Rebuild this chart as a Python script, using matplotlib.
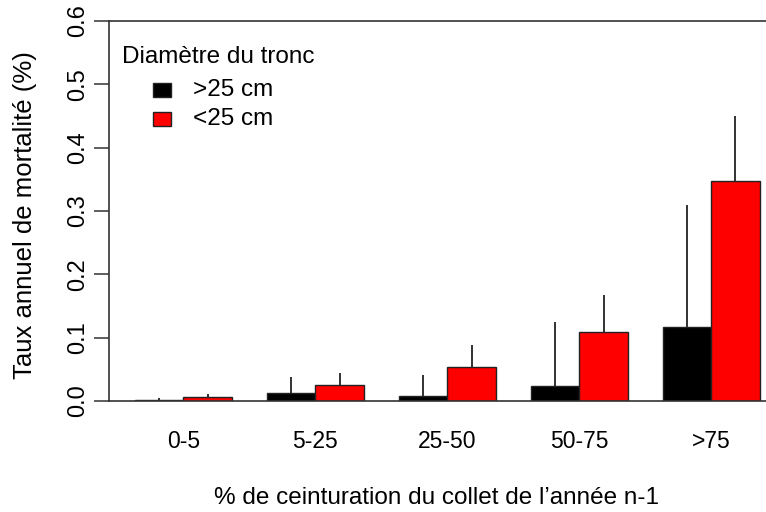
import matplotlib.pyplot as plt
from matplotlib.patches import Rectangle
import numpy as np

plt.rcParams['font.family'] = ['Liberation Sans', 'DejaVu Sans']

categories = ["0-5", "5-25", "25-50", "50-75", ">75"]
big_trunk = [0.001, 0.013, 0.008, 0.024, 0.117]      # >25 cm
big_err_top = [0.005, 0.038, 0.041, 0.125, 0.310]
small_trunk = [0.006, 0.025, 0.054, 0.109, 0.348]    # <25 cm
small_err_top = [0.011, 0.044, 0.089, 0.168, 0.450]
yticks = [0.0, 0.1, 0.2, 0.3, 0.4, 0.5, 0.6]

W, H = 766, 512
fig = plt.figure(figsize=(W / 100, H / 100), dpi=100)
# axes run off the right edge, like the cropped original
ax = fig.add_axes([109 / W, 111 / H, (W - 109) / W, 380 / H])

space = 0.72
pitch = 2 + space
left0 = 0.536
x_black = left0 + pitch * np.arange(len(categories))
x_red = x_black + 1

ax.bar(x_black, big_trunk, width=1, align="edge", color="black",
       edgecolor="#222222", linewidth=1)
ax.bar(x_red, small_trunk, width=1, align="edge", color="#ff0000",
       edgecolor="#222222", linewidth=1)
ax.vlines(x_black + 0.5, big_trunk, big_err_top, color="#222222", linewidth=1.3)
ax.vlines(x_red + 0.5, small_trunk, small_err_top, color="#222222", linewidth=1.3)

ax.set_xlim(0, (W - 109) / 48.5)
ax.set_ylim(0, 0.6)

ax.spines["right"].set_visible(False)
for s in ["left", "top", "bottom"]:
    ax.spines[s].set_color("#333333")
    ax.spines[s].set_linewidth(1.2)

ax.set_yticks(yticks)
ax.set_yticklabels([f"{v:.1f}" for v in yticks], rotation=90, va="center",
                   fontsize=17)
ax.tick_params(axis="y", length=10.5, width=1.1, color="#333333", pad=4)
ax.set_xticks(x_black + 1)
ax.set_xticklabels(categories, fontsize=16.5)
ax.tick_params(axis="x", length=0, pad=21)

ax.set_ylabel("Taux annuel de mortalité (%)", fontsize=18.5)
ax.yaxis.set_label_coords(-(109 - 25) / (W - 109), 0.49)
ax.yaxis.label.set_va("center")

# legend and x title drawn by hand, in pixel positions
def px(x, y):
    return x / W, 1 - y / H

fig.text(*px(437, 498), "% de ceinturation du collet de l\u2019année n-1",
         fontsize=17.5, ha="center", va="center")

fig.text(*px(122, 57), "Diamètre du tronc", fontsize=17.5, va="center")
for y0, col, lab in [(83, "black", ">25 cm"), (112, "#ff0000", "<25 cm")]:
    fig.add_artist(Rectangle(px(153, y0 + 14), 18 / W, 14 / H, facecolor=col,
                             edgecolor="#222222", linewidth=1,
                             transform=fig.transFigure))
    fig.text(*px(193, y0 + 7), lab, fontsize=17.5, va="center")

fig.savefig("out.png", dpi=100)
